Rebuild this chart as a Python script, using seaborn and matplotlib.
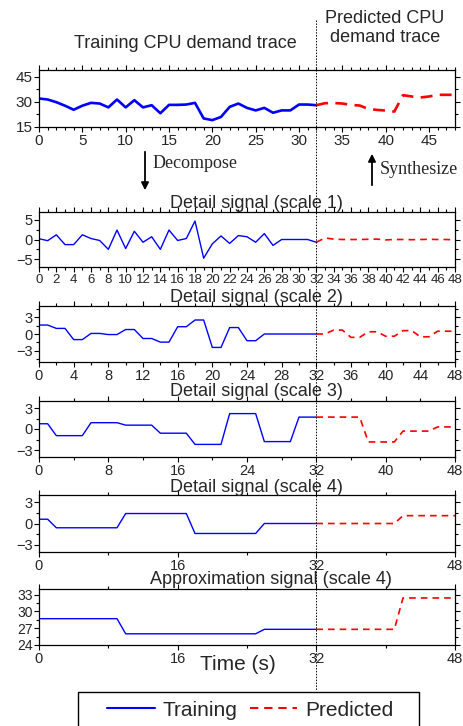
import numpy as np
import pandas as pd
import matplotlib
matplotlib.use("Agg")
import matplotlib.pyplot as plt
from matplotlib.ticker import MultipleLocator
from matplotlib.patches import Rectangle
from matplotlib.lines import Line2D
import seaborn as sns

# Time axis (s): training part and predicted part
t_train = list(range(0, 33))
t_pred = list(range(32, 49))

# CPU demand trace
cpu_train = [32.0, 31.4, 29.8, 27.7, 25.3, 27.7, 29.4, 29.0, 26.7, 31.4, 26.7,
             31.0, 26.7, 28.0, 23.2, 28.2, 28.2, 28.4, 29.4, 20.1, 19.1, 21.0,
             27.0, 29.0, 26.4, 24.9, 26.4, 23.5, 24.9, 24.9, 28.4, 28.4, 28.0]
cpu_pred = [28.0, 29.2, 29.3, 29.0, 28.2, 27.8, 25.8, 25.2, 24.8, 24.2,
            34.0, 33.2, 32.6, 33.2, 34.2, 34.2, 34.2]

# Detail signal (scale 1)
d1_train = [0.2, -0.3, 1.2, -1.3, -1.3, 1.2, 0.25, -0.25, -2.5, 2.4, -2.3,
            2.1, -0.7, 0.7, -2.5, 2.4, -0.25, 0.25, 4.7, -4.75, -1.1, 0.9,
            -1.0, 1.0, 0.7, -0.7, 1.5, -1.5, 0.0, 0.0, 0.0, 0.0, -0.7]
d1_pred = [-0.7, 0.4, 0.1, 0.0, 0.0, 0.0, 0.05, 0.1, -0.1, 0.0, 0.0,
           -0.05, 0.0, 0.05, 0.0, 0.0, -0.1]

# Detail signal (scale 2)
d2_train = [1.6, 1.6, 1.0, 1.0, -1.0, -1.0, 0.1, 0.1, -0.1, -0.1, 0.8, 0.8,
            -0.8, -0.8, -1.45, -1.45, 1.3, 1.3, 2.5, 2.5, -2.4, -2.4, 1.15,
            1.15, -1.2, -1.2, 0.0, 0.0, 0.0, 0.0, 0.0, 0.0, 0.0]
d2_pred = [0.0, 0.0, 0.7, 0.7, -0.6, -0.6, 0.4, 0.4, -0.4, -0.4, 0.6, 0.6,
           -0.5, -0.5, 0.5, 0.5, 0.5]

# Detail signal (scale 3)
d3_train = [0.75, 0.75, -0.95, -0.95, -0.95, -0.95, 0.9, 0.9, 0.9, 0.9,
            0.55, 0.55, 0.55, 0.55, -0.6, -0.6, -0.6, -0.6, -2.2, -2.2, -2.2,
            -2.2, 2.2, 2.2, 2.2, 2.2, -1.8, -1.8, -1.8, -1.8, 1.7, 1.7, 1.7]
d3_pred = [1.7, 1.7, 1.7, 1.7, 1.7, 1.7, -1.85, -1.85, -1.85, -1.85,
           -0.3, -0.3, -0.3, -0.3, 0.3, 0.3, 0.3]

# Detail signal (scale 4)
d4_train = [0.6, 0.6, -0.6, -0.6, -0.6, -0.6, -0.6, -0.6, -0.6, -0.6,
            1.4, 1.4, 1.4, 1.4, 1.4, 1.4, 1.4, 1.4, -1.4, -1.4, -1.4, -1.4,
            -1.4, -1.4, -1.4, -1.4, 0.0, 0.0, 0.0, 0.0, 0.0, 0.0, 0.0]
d4_pred = [0.0, 0.0, 0.0, 0.0, 0.0, 0.0, 0.0, 0.0, 0.0, 0.0,
           1.1, 1.1, 1.1, 1.1, 1.1, 1.1, 1.1]

# Approximation signal (scale 4)
a4_train = [28.7, 28.7, 28.7, 28.7, 28.7, 28.7, 28.7, 28.7, 28.7, 28.7,
            26.0, 26.0, 26.0, 26.0, 26.0, 26.0, 26.0, 26.0, 26.0, 26.0, 26.0,
            26.0, 26.0, 26.0, 26.0, 26.0, 26.8, 26.8, 26.8, 26.8, 26.8, 26.8,
            26.8]
a4_pred = [26.8, 26.8, 26.8, 26.8, 26.8, 26.8, 26.8, 26.8, 26.8, 26.8,
           32.4, 32.4, 32.4, 32.4, 32.4, 32.4, 32.4]

titles = ["Detail signal (scale 1)", "Detail signal (scale 2)",
          "Detail signal (scale 3)", "Detail signal (scale 4)",
          "Approximation signal (scale 4)"]

sns.set_style("ticks")
plt.rcParams['font.family'] = ['Liberation Sans', 'DejaVu Sans']
plt.rcParams['axes.linewidth'] = 0.9

BLUE = '#0000ff'
RED = '#ff0000'
W, H = 464, 726
fig = plt.figure(figsize=(W / 100, H / 100), dpi=100)


def add_panel(top, bottom, left=39, right=455):
    return fig.add_axes([left / W, 1 - bottom / H, (right - left) / W, (bottom - top) / H])


def style_axes(ax, ylim, ymaj, ymin, xmaj, xmin, fs_x, fs_y):
    ax.set_xlim(0, 48)
    ax.set_ylim(*ylim)
    ax.xaxis.set_major_locator(MultipleLocator(xmaj))
    ax.xaxis.set_minor_locator(MultipleLocator(xmin))
    ax.yaxis.set_major_locator(MultipleLocator(ymaj))
    ax.yaxis.set_minor_locator(MultipleLocator(ymin))
    ax.tick_params(which='both', direction='out', top=True, right=True,
                   color='black', width=0.8)
    ax.tick_params(which='major', length=3.5)
    ax.tick_params(which='minor', length=2)
    ax.tick_params(axis='x', labelsize=fs_x, pad=1.5)
    ax.tick_params(axis='y', labelsize=fs_y, pad=1)
    ax.set_xlabel('')
    ax.set_ylabel('')
    for s in ax.spines.values():
        s.set_color('black')
        s.set_linewidth(0.9)


# Top panel: CPU demand trace
ax0 = add_panel(70, 127)
sns.lineplot(x=t_train, y=cpu_train, ax=ax0, color=BLUE, lw=1.9)
sns.lineplot(x=t_pred, y=cpu_pred, ax=ax0, color=RED, lw=1.9, linestyle=(0, (4.5, 2.8)))
style_axes(ax0, (15, 49), 15, 7.5, 5, 1, 11, 11)

# decomposed signals
panels = [
    (212, 267, d1_train, d1_pred, (-7, 7), 5, 2.5, 2, 1, 9.5, 10.5),
    (306, 362, d2_train, d2_pred, (-5, 5), 3, 1.5, 4, 2, 10.5, 10.5),
    (401, 457, d3_train, d3_pred, (-4, 4), 3, 1.5, 8, 4, 10.5, 10.5),
    (495, 552, d4_train, d4_pred, (-4, 4), 3, 1.5, 16, 8, 10.5, 10.5),
    (589, 645, a4_train, a4_pred, (24, 34), 3, 1.5, 16, 8, 10.5, 10),
]
title_pos = [(256, 204), (256, 297), (256, 392), (256, 487), (271, 580)]

axes = [ax0]
for (top, bot, tr, pr, yl, ymaj, ymin, xmaj, xmin, fsx, fsy), title, (tx, ty) in zip(panels, titles, title_pos):
    ax = add_panel(top, bot)
    sns.lineplot(x=t_train, y=tr, ax=ax, color=BLUE, lw=1.0)
    sns.lineplot(x=t_pred, y=pr, ax=ax, color=RED, lw=1.2, linestyle=(0, (4, 3)))
    style_axes(ax, yl, ymaj, ymin, xmaj, xmin, fsx, fsy)
    fig.text(tx / W, 1 - ty / H, title, fontsize=13, ha='center', va='center')
    axes.append(ax)

# header texts
fig.text(185 / W, 1 - 43 / H, "Training CPU demand trace", fontsize=13, ha='center', va='center')
fig.text(385 / W, 1 - 28 / H, "Predicted CPU\ndemand trace", fontsize=13, ha='center',
         va='center', linespacing=1.15)
fig.text(238 / W, 1 - 665 / H, "Time (s)", fontsize=15, ha='center', va='center')

# decompose / synthesize arrows
fig.add_artist(matplotlib.patches.FancyArrowPatch((145 / W, 1 - 149 / H), (145 / W, 1 - 193 / H),
               transform=fig.transFigure, arrowstyle='-|>', mutation_scale=11, lw=1.3, color='black'))
fig.add_artist(matplotlib.patches.FancyArrowPatch((372 / W, 1 - 188 / H), (372 / W, 1 - 151 / H),
               transform=fig.transFigure, arrowstyle='-|>', mutation_scale=11, lw=1.3, color='black'))
fig.text(153 / W, 1 - 163 / H, "Decompose", fontsize=13, ha='left', va='center',
         family=['Liberation Serif', 'DejaVu Serif'])
fig.text(380 / W, 1 - 169 / H, "Synthesize", fontsize=13, ha='left', va='center',
         family=['Liberation Serif', 'DejaVu Serif'])

# dotted separator at t = 32 s
pos = ax0.get_position()
x_split = pos.x0 + pos.width * (32 - 0) / 48
fig.add_artist(Line2D([x_split, x_split], [1 - 20 / H, 1 - 690 / H], transform=fig.transFigure,
                      color='black', lw=0.7, linestyle=(0, (1.5, 1.5)), zorder=10))

# legend
fig.add_artist(Rectangle((78 / W, -0.05), (419 - 78) / W, 0.05 + 1 - 692 / H,
                         transform=fig.transFigure, fill=False, edgecolor='black', lw=1.0))
handles = [Line2D([], [], color=BLUE, lw=1.5),
           Line2D([], [], color=RED, lw=1.5, linestyle=(0, (4, 2.8)))]
fig.legend(handles, ['Training', 'Predicted'], loc='center', ncol=2, frameon=False,
           bbox_to_anchor=(250 / W, 1 - 710 / H), fontsize=15, handlelength=2.3,
           handletextpad=0.35, columnspacing=0.6)

fig.savefig('out.png', dpi=100)
